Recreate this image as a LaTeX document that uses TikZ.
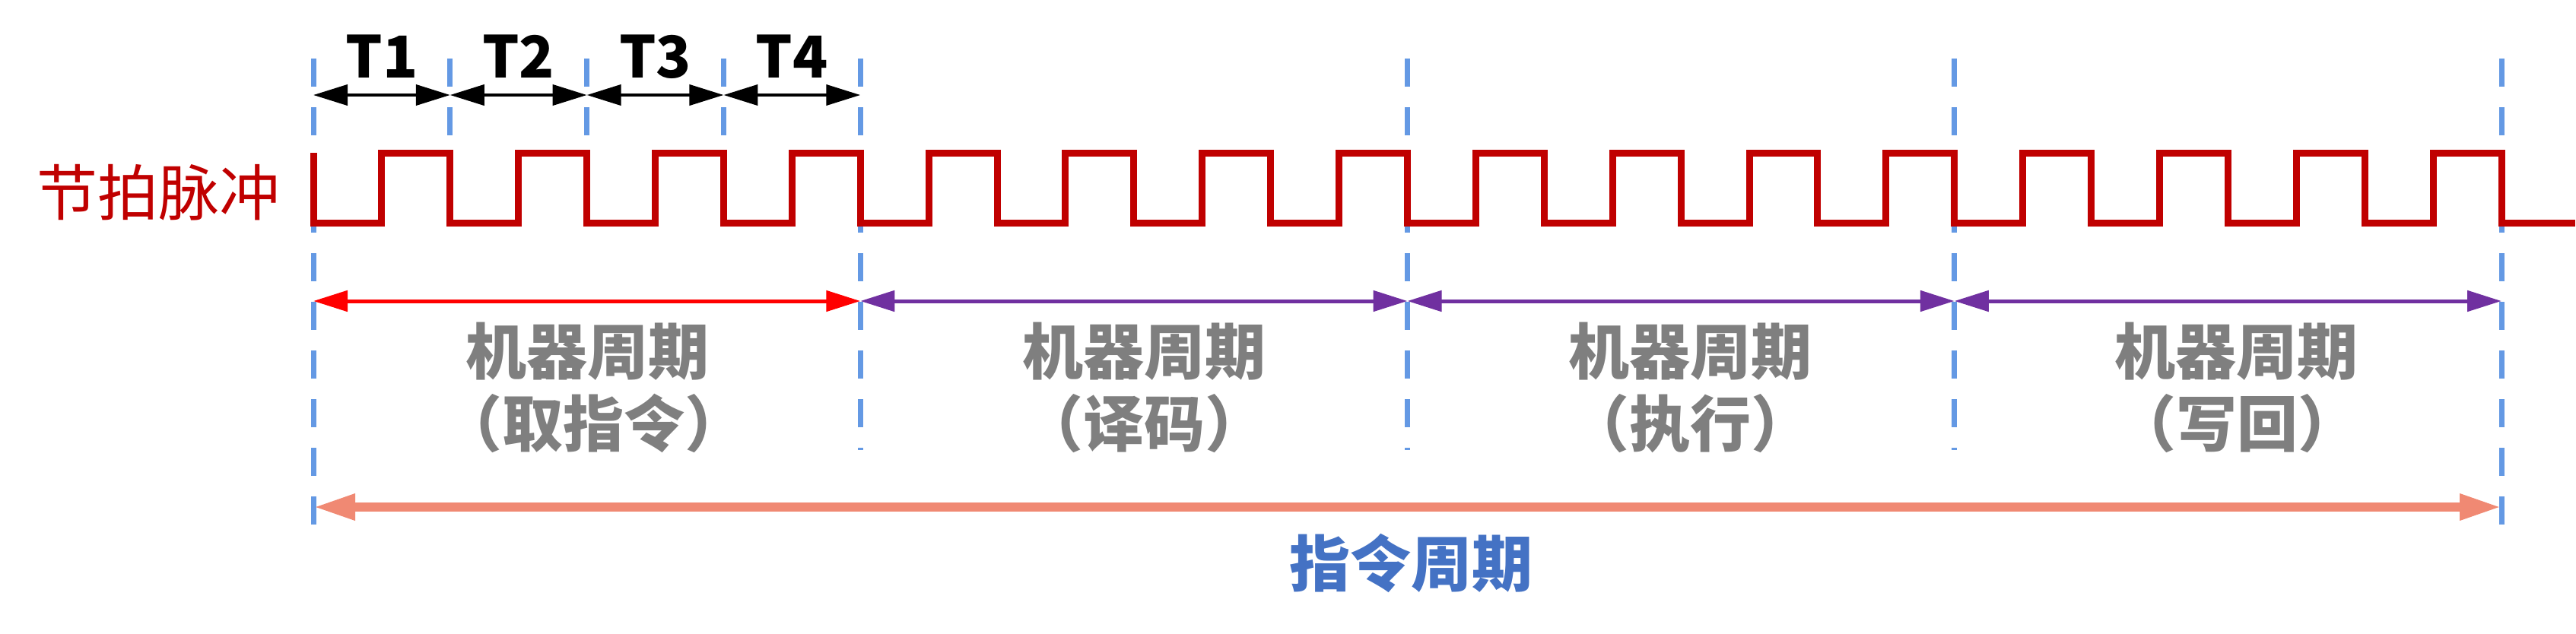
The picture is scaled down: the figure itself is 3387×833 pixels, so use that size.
\documentclass[tikz,border=0pt]{standalone}
\usepackage{fontspec}
\newfontfamily\cjk{Noto Sans CJK SC}
\usetikzlibrary{arrows.meta}
\definecolor{guideblue}{RGB}{100,153,228}
\definecolor{pulsered}{RGB}{192,0,0}
\definecolor{mcpurple}{RGB}{112,48,160}
\definecolor{icsalmon}{RGB}{240,137,115}
\definecolor{labelgray}{RGB}{127,127,127}
\definecolor{icblue}{RGB}{68,114,196}
\tikzset{
  guide/.style={draw=guideblue, line width=7pt, dash pattern=on 37pt off 27pt},
  wave/.style={draw=pulsered, line width=9pt, line join=miter},
  tarrow/.style={draw=black, fill=black, line width=4pt, {Triangle[length=45pt,width=27pt]}-{Triangle[length=45pt,width=27pt]}},
  marrow/.style={line width=5pt, {Triangle[length=45pt,width=27pt]}-{Triangle[length=45pt,width=27pt]}},
  iarrow/.style={draw=icsalmon, line width=12pt, {Triangle[length=55pt,width=32pt]}-{Triangle[length=55pt,width=32pt]}},
  tlabel/.style={inner sep=0pt, anchor=base, font=\cjk\bfseries\fontsize{76}{90}\selectfont, text=black},
  mclabel/.style={inner sep=0pt, anchor=base, font=\cjk\bfseries\fontsize{80}{95}\selectfont, text=labelgray},
  iclabel/.style={inner sep=0pt, anchor=base, font=\cjk\bfseries\fontsize{80}{95}\selectfont, text=icblue},
  pulselabel/.style={inner sep=0pt, anchor=base east, font=\cjk\fontsize{80}{95}\selectfont, text=pulsered}
}
\begin{document}
\begin{tikzpicture}[x=1pt,y=-1pt]
\useasboundingbox (0,0) rectangle (3387,833);
\def\Tw{179.8125}
% T-state boundaries
\foreach \i in {0,...,16}{
  \coordinate (t\i) at ({412+\i*\Tw},0);
}
% guide lines
\foreach \i in {0,16}{
  \draw[guide] (t\i |- 0,77) -- (t\i |- 0,690);
}
\foreach \i in {4,8,12}{
  \draw[guide] (t\i |- 0,77) -- (t\i |- 0,592);
}
\foreach \i in {1,2,3}{
  \draw[guide] (t\i |- 0,77) -- (t\i |- 0,179);
}
% pulse waveform
\draw[wave] (412,201)
  \foreach \k in {0,...,15}{
    -- ({412+\k*\Tw},293) -- ({412+(\k+0.5)*\Tw},293)
    -- ({412+(\k+0.5)*\Tw},201) -- ({412+(\k+1)*\Tw},201)
  } -- (3289,293) -- (3386,293);
\node[pulselabel] (pulse) at (369,283) {节拍脉冲};
% T arrows and labels
\foreach \i in {0,1,2,3,4}{
  \coordinate (ta\i) at ({412+\i*\Tw},125);
}
\draw[tarrow] (ta0) -- (ta1);
\draw[tarrow] (ta1) -- (ta2);
\draw[tarrow] (ta2) -- (ta3);
\draw[tarrow] (ta3) -- (ta4);
\node[tlabel] (T1) at ({412+0.5*\Tw},102) {T1};
\node[tlabel] (T2) at ({412+1.5*\Tw},102) {T2};
\node[tlabel] (T3) at ({412+2.5*\Tw},102) {T3};
\node[tlabel] (T4) at ({412+3.5*\Tw},102) {T4};
% machine cycle arrows
\coordinate (m0) at (t0 |- 0,396);
\coordinate (m1) at (t4 |- 0,396);
\coordinate (m2) at (t8 |- 0,396);
\coordinate (m3) at (t12 |- 0,396);
\coordinate (m4) at (t16 |- 0,396);
\draw[marrow, draw=red, fill=red] (m0) -- (m1);
\draw[marrow, draw=mcpurple, fill=mcpurple] (m1) -- (m2);
\draw[marrow, draw=mcpurple, fill=mcpurple] (m2) -- (m3);
\draw[marrow, draw=mcpurple, fill=mcpurple] (m3) -- (m4);
% machine cycle labels
\node[mclabel] (mc1a) at (772,492) {机器周期};
\node[mclabel] (mc1b) at (780,587) {（取指令）};
\node[mclabel] (mc2a) at (1504,492) {机器周期};
\node[mclabel] (mc2b) at (1504,587) {（译码）};
\node[mclabel] (mc3a) at (2222,492) {机器周期};
\node[mclabel] (mc3b) at (2222,587) {（执行）};
\node[mclabel] (mc4a) at (2940,492) {机器周期};
\node[mclabel] (mc4b) at (2941,587) {（写回）};
% instruction cycle
\coordinate (i0) at (t0 |- 0,667);
\coordinate (i1) at (t16 |- 0,667);
\draw[iarrow, fill=icsalmon] (i0) -- (i1);
\node[iclabel] (ic) at (1855,771) {指令周期};
\end{tikzpicture}
\end{document}
